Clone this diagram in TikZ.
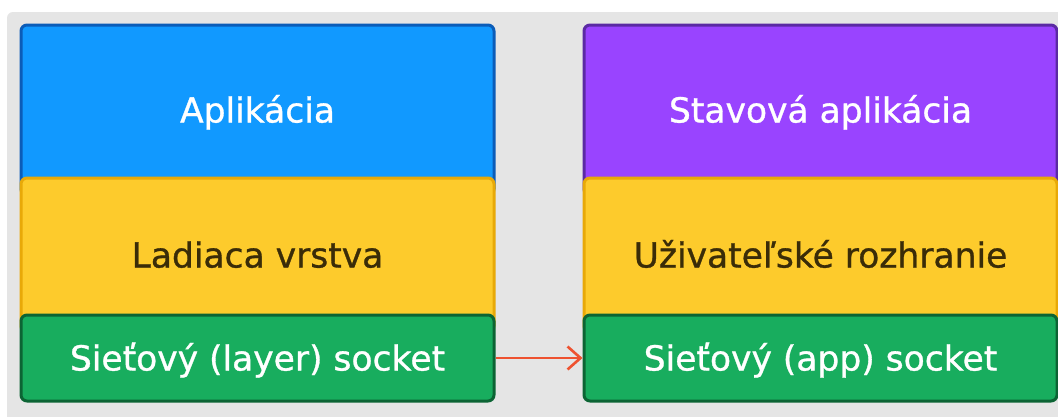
\documentclass[tikz,border=0pt]{standalone}
\usepackage{fontspec}
\setmainfont{DejaVu Sans}
\newfontfamily\labelfont{DejaVu Sans}[FakeBold=0.9]
\usetikzlibrary{arrows.meta}
\definecolor{bggray}{HTML}{E5E5E5}
\definecolor{bluefill}{HTML}{1199FF}
\definecolor{blueline}{HTML}{0B5CB8}
\definecolor{purfill}{HTML}{9944FF}
\definecolor{purline}{HTML}{5B2AA3}
\definecolor{yelfill}{HTML}{FDCB2C}
\definecolor{yelline}{HTML}{E8A908}
\definecolor{grnfill}{HTML}{18AD5E}
\definecolor{grnline}{HTML}{0C6434}
\definecolor{darktext}{HTML}{3A2C08}
\definecolor{arrowcol}{HTML}{EE5230}
\tikzset{
  layerbox/.style={rounded corners=6pt, line width=3pt, minimum width=473pt,
    inner sep=0pt, font=\labelfont\fontsize{34.5}{40}\selectfont, text height=25pt, text depth=0pt},
  bluebox/.style={layerbox, fill=bluefill, draw=blueline, text=white},
  purbox/.style={layerbox, fill=purfill, draw=purline, text=white},
  yelbox/.style={layerbox, fill=yelfill, draw=yelline, text=darktext},
  grnbox/.style={layerbox, fill=grnfill, draw=grnline, text=white},
  flow/.style={draw=arrowcol, line width=2.6pt, -{Straight Barb[length=13pt,width=23pt,line width=2.6pt]}}
}
\begin{document}
\begin{tikzpicture}[x=1pt,y=-1pt]
\useasboundingbox (0,0) rectangle (1058,416);
\clip (0,0) rectangle (1058,416);
\fill[white] (0,0) rectangle (1058,416);
\fill[bggray, rounded corners=6pt] (7,12) rectangle (1080,440);
% left column
\node[bluebox, minimum height=170pt] (app) at (257.5,110) {Aplikácia};
\node[yelbox, minimum height=154pt] (dbg) at (257.5,255) {Ladiaca vrstva};
\node[grnbox, minimum height=86pt] (lsock) at (257.5,358) {Sieťový (layer) socket};
% right column
\node[purbox, minimum height=170pt] (sapp) at (820.5,110) {Stavová aplikácia};
\node[yelbox, minimum height=154pt] (ui) at (820.5,255) {Uživateľské rozhranie};
\node[grnbox, minimum height=86pt] (asock) at (820.5,358) {Sieťový (app) socket};
\draw[flow] (lsock.east) -- (asock.west);
\end{tikzpicture}
\end{document}
